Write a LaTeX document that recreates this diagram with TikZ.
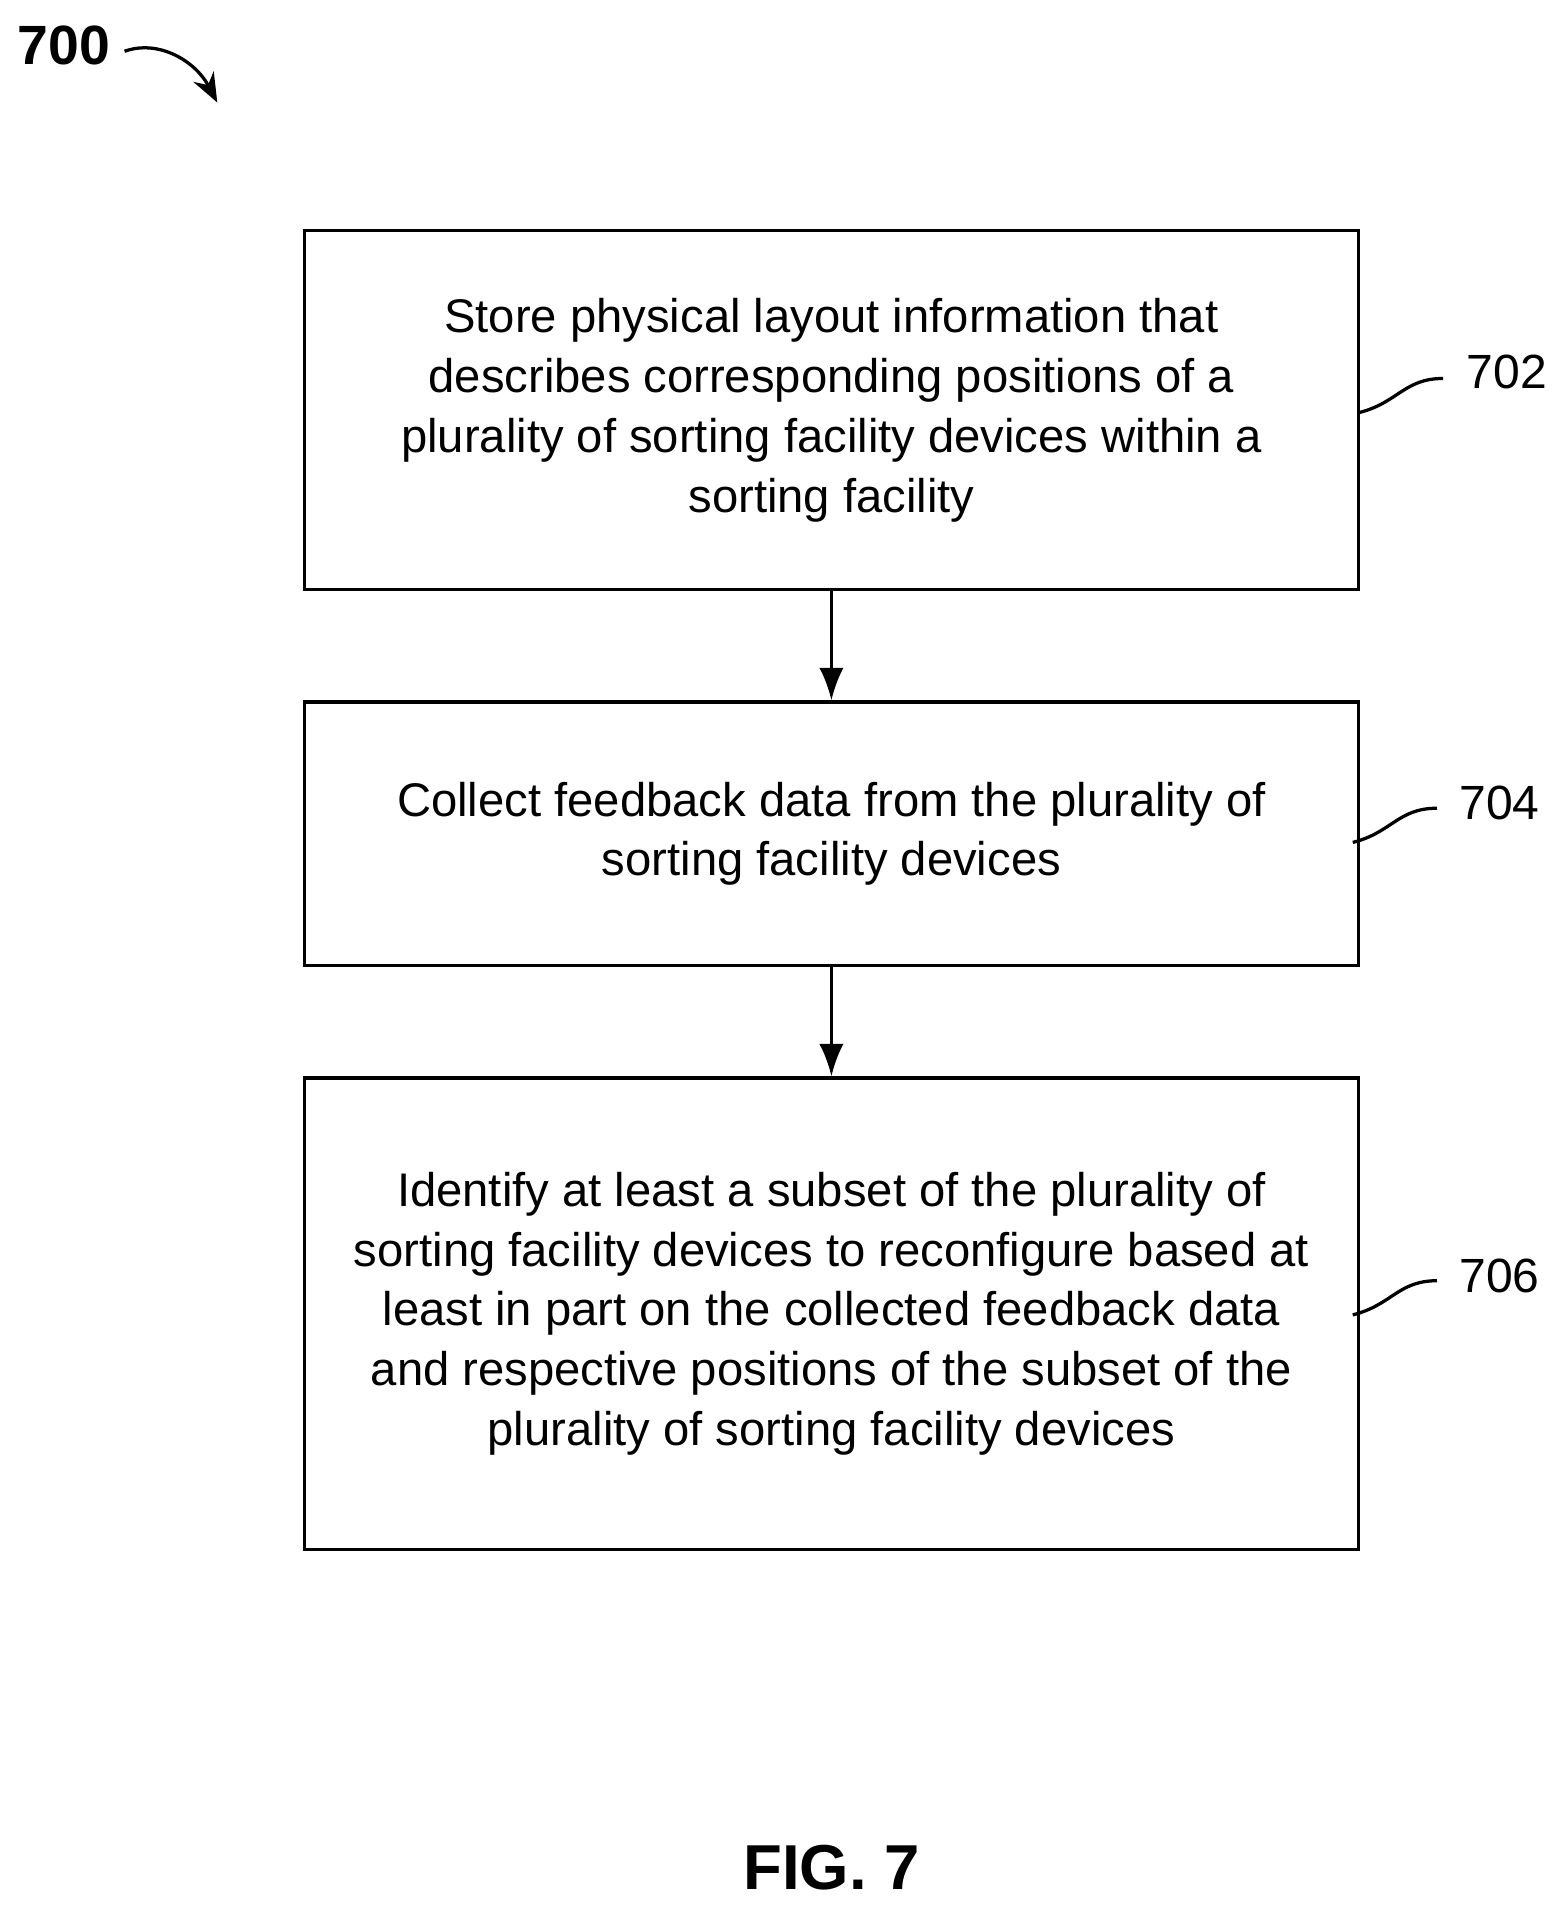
\documentclass[tikz,border=0pt]{standalone}
\usepackage{fontspec}
\setmainfont{Liberation Sans}
\usetikzlibrary{positioning,arrows.meta}
\tikzset{every picture/.style={line width=0.75pt}}
\tikzset{
  stepbox/.style={draw, line width=2pt, minimum width=863*0.75pt, align=center, inner sep=0pt,
    font=\fontsize{29}{36.75}\selectfont},
  reflabel/.style={font=\fontsize{29.5}{32}\selectfont, inner sep=0.75pt},
  flowarrow/.style={line width=2pt, -{Latex[length=20pt,width=15pt]}},
  leader/.style={line width=2pt}
}
\begin{document}
\begin{tikzpicture}[x=0.75pt,y=0.75pt,yscale=-1,xscale=1]
\useasboundingbox (0,0) rectangle (1280,1562);

% Boxes
\node [stepbox, minimum height=294*0.75pt] (s702) at (681,336) {Store physical layout information that\\describes corresponding positions of a\\plurality of sorting facility devices within a\\sorting facility};
\node [stepbox, minimum height=216*0.75pt] (s704) at (681,683) {Collect feedback data from the plurality of\\sorting facility devices};
\node [stepbox, minimum height=386*0.75pt] (s706) at (681,1076) {Identify at least a subset of the plurality of\\sorting facility devices to reconfigure based at\\least in part on the collected feedback data\\and respective positions of the subset of the\\plurality of sorting facility devices};

% Arrows
\draw [flowarrow] (s702) -- (s704);
\draw [flowarrow] (s704) -- (s706);

% Reference labels
\node [reflabel, anchor=west] (l702) at (1200,305) {702};
\node [reflabel, anchor=west] (l704) at (1194,658) {704};
\node [reflabel, anchor=west] (l706) at (1194,1045) {706};
\draw [leader] (1113,338) .. controls (1145,330) and (1150,310) .. (1182,310);
\draw [leader] (1108,690) .. controls (1140,682) and (1145,662) .. (1177,662);
\draw [leader] (1108,1077) .. controls (1140,1069) and (1145,1049) .. (1177,1049);

% Figure number
\node [font=\bfseries\fontsize{34}{38}\selectfont, anchor=west, inner sep=0pt] (n700) at (14,37) {700};
\draw [line width=2pt, -{Stealth[length=18pt,width=14pt]}] (102,42) .. controls (130,32) and (160,50) .. (178,84);
\node [font=\bfseries\fontsize{39}{44}\selectfont] (fig) at (681,1530) {FIG. 7};
\end{tikzpicture}
\end{document}
